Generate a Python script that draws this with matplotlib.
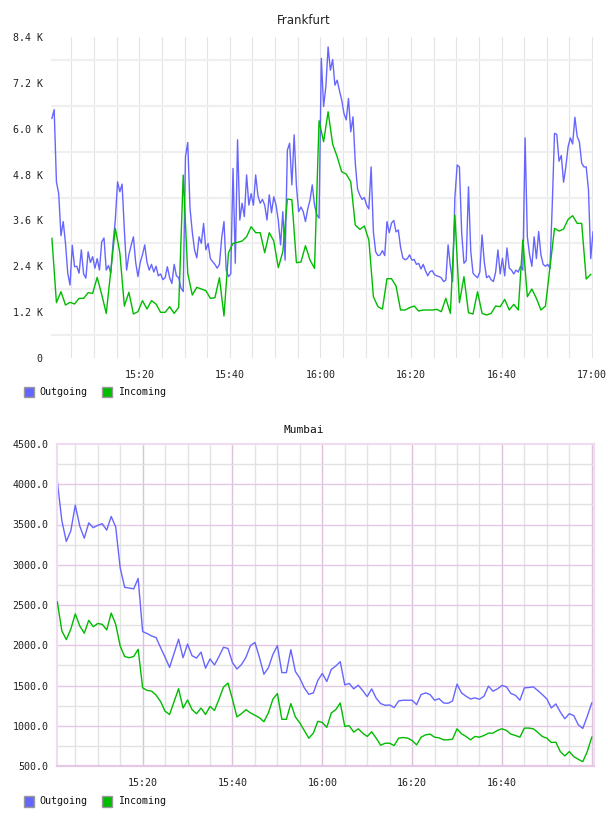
import numpy as np
import matplotlib
matplotlib.use("Agg")
import matplotlib.pyplot as plt
from matplotlib.patches import Rectangle

# ---------------- data ----------------
# minutes after 15:00
fra_out_start, fra_out_step = 0.7, 0.5
fra_in_start, fra_in_step = 0.7, 1.0
mum_start, mum_step = 1.0, 1.0

fra_outgoing = [
    6270, 6500, 4610, 4300, 3200, 3570, 3000, 2220, 1910, 2950,
    2390, 2400, 2220, 2830, 2200, 2090, 2780, 2500, 2650, 2350,
    2600, 2300, 3040, 3140, 2300, 2420, 2215, 3000, 3610, 4610,
    4350, 4550, 3350, 2300, 2700, 2950, 3170, 2500, 2130, 2500,
    2700, 2960, 2500, 2300, 2450, 2250, 2400, 2150, 2200, 2050,
    2100, 2390, 2100, 1950, 2450, 2150, 2100, 1830, 1740, 5270,
    5640, 3920, 3300, 2830, 2620, 3170, 3000, 3520, 2830, 3000,
    2600, 2520, 2450, 2350, 2450, 3150, 3570, 2300, 2130, 2200,
    4960, 2480, 5710, 3610, 4050, 3700, 4790, 4000, 4300, 4000,
    4790, 4250, 4050, 4150, 4000, 3610, 4270, 3800, 4220, 4000,
    3600, 2960, 3830, 2560, 5440, 5620, 4530, 5840, 4500, 3830,
    3950, 3830, 3570, 3900, 4130, 4530, 4000, 3750, 3660, 7840,
    6580, 7100, 8140, 7530, 7810, 7140, 7270, 7000, 6750, 6400,
    6230, 6790, 5920, 6310, 5100, 4420, 4260, 4150, 4200, 4000,
    3900, 5000, 3300, 2780, 2680, 2700, 2810, 2680, 3570, 3280,
    3530, 3600, 3300, 3350, 2900, 2620, 2570, 2600, 2700, 2560,
    2580, 2450, 2476, 2330, 2450, 2285, 2150, 2260, 2285, 2180,
    2150, 2130, 2100, 2000, 2040, 2960, 2400, 2000, 4200, 5050,
    5000, 3270, 2480, 2550, 4480, 2800, 2220, 2150, 2100, 2250,
    3220, 2500, 2100, 2150, 2050, 2000, 2250, 2830, 2200, 2610,
    2150, 2880, 2350, 2300, 2200, 2300, 2250, 2400, 2300, 5760,
    3170, 2700, 2400, 3170, 2600, 3310, 2700, 2450, 2400, 2450,
    2350, 4000, 5880, 5850, 5150, 5300, 4600, 5000, 5530, 5760,
    5600, 6300, 5800, 5650, 5100, 5000, 5000, 4400, 2600, 3300,
]
fra_incoming = [
    3130, 1448, 1735, 1386, 1456, 1413, 1561, 1561, 1709, 1692,
    2110, 1660, 1168, 2270, 3392, 2755, 1360, 1718, 1151, 1212,
    1500, 1282, 1500, 1413, 1195, 1195, 1343, 1168, 1326, 4787,
    2215, 1648, 1849, 1805, 1761, 1561, 1578, 2102, 1099, 2755,
    3000, 3026, 3061, 3174, 3436, 3279, 3279, 2755, 3279, 3061,
    2363, 2782, 4159, 4142, 2494, 2511, 2939, 2564, 2346, 6209,
    5659, 6444, 5598, 5267, 4874, 4813, 4613, 3479, 3366, 3453,
    3087, 1604, 1343, 1282, 2075, 2075, 1884, 1256, 1256, 1317,
    1360, 1230, 1256, 1256, 1256, 1273, 1212, 1561, 1168, 3741,
    1448, 2128, 1186, 1151, 1735, 1168, 1125, 1168, 1360, 1343,
    1535, 1256, 1404, 1256, 3087, 1604, 1805, 1561, 1256, 1360,
    2372, 3392, 3322, 3375, 3628, 3723, 3523, 3523, 2067, 2189,
]
mum_outgoing = [
    4040, 3550, 3290, 3420, 3740, 3480, 3330, 3520, 3460, 3490,
    3510, 3430, 3600, 3470, 2960, 2720, 2710, 2700, 2830,
    2170, 2145, 2115, 2095, 1970, 1850, 1725, 1900, 2075, 1845,
    2015, 1870, 1840, 1915, 1715, 1830, 1755, 1860, 1975, 1960,
    1785, 1705, 1760, 1850, 1995, 2035, 1850, 1640, 1720, 1885,
    1995, 1660, 1660, 1945, 1675, 1590, 1470, 1390,
    1408, 1562, 1650, 1550, 1700, 1742, 1796, 1508, 1525, 1458,
    1504, 1437, 1362, 1458, 1342, 1275, 1254, 1258, 1225, 1308,
    1317, 1317, 1317, 1262, 1387, 1408, 1387, 1317, 1337, 1283,
    1279, 1308, 1517, 1408, 1367, 1333, 1346, 1329, 1367, 1492,
    1429, 1458, 1500, 1483, 1400, 1379, 1317, 1471, 1475, 1483,
    1437, 1387, 1333, 1221, 1271, 1171, 1087, 1150, 1125, 1012,
    967, 1117, 1283,
]
mum_incoming = [
    2540, 2180, 2070, 2200, 2390, 2240, 2150, 2310, 2230, 2270,
    2260, 2190, 2400, 2260, 1990, 1860, 1845, 1860, 1950,
    1470, 1440, 1430, 1380, 1300, 1180, 1140, 1300, 1460, 1220,
    1320, 1200, 1150, 1220, 1140, 1240, 1190, 1330, 1480, 1530,
    1330, 1110, 1150, 1200, 1160, 1130, 1100, 1050, 1160, 1330,
    1400, 1080, 1080, 1275, 1110, 1035, 940, 845,
    908, 1054, 1042, 979, 1158, 1200, 1283, 992, 1000, 921,
    962, 908, 867, 925, 846, 758, 783, 783, 754, 846,
    854, 846, 817, 762, 858, 887, 896, 858, 850, 825,
    825, 833, 962, 900, 867, 825, 867, 858, 879, 908,
    908, 942, 962, 942, 896, 879, 858, 971, 971, 962,
    917, 867, 846, 792, 796, 679, 625, 679, 617, 583,
    554, 679, 858,
]

x_tick_minutes = [20, 40, 60, 80, 100, 120]
x_tick_labels = ["15:20", "15:40", "16:00", "16:20", "16:40", "17:00"]
fra_y_ticks = [0, 1200, 2400, 3600, 4800, 6000, 7200, 8400]
fra_y_labels = ["0", "1.2 K", "2.4 K", "3.6 K", "4.8 K", "6.0 K", "7.2 K", "8.4 K"]
mum_y_ticks = [500, 1000, 1500, 2000, 2500, 3000, 3500, 4000, 4500]
mum_y_labels = ["%.1f" % v for v in mum_y_ticks]
series_names = ["Outgoing", "Incoming"]

# ---------------- style ----------------
C_OUT = "#6666ff"
C_IN = "#00bb00"
MONO = ["DejaVu Sans Mono"]
W, H = 608, 816

fig = plt.figure(figsize=(W / 100, H / 100), dpi=100)
fig.patch.set_facecolor("white")


def fx(px):
    return px / W


def fy(py):
    return 1 - py / H


# ---------------- Frankfurt ----------------
ax1 = fig.add_axes([fx(51), fy(358), fx(593) - fx(51), fy(37) - fy(358)])
t_out = fra_out_start + fra_out_step * np.arange(len(fra_outgoing))
t_in = fra_in_start + fra_in_step * np.arange(len(fra_incoming))
ax1.set_xlim(0.5, 120.2)
ax1.set_ylim(0, 8400)
for s in ax1.spines.values():
    s.set_visible(False)
for m in range(5, 121, 5):
    ax1.axvline(m, color="#e4e4e4", lw=0.8, zorder=0)
for v in range(600, 8400, 1200):
    ax1.axhline(v, color="#efefef", lw=1.6, zorder=0)
ax1.plot(t_in, fra_incoming, color=C_IN, lw=1.0, zorder=3)
ax1.plot(t_out, fra_outgoing, color=C_OUT, lw=1.0, zorder=2)
ax1.set_xticks(x_tick_minutes)
ax1.set_xticklabels(x_tick_labels)
ax1.set_yticks(fra_y_ticks)
ax1.set_yticklabels(fra_y_labels)
ax1.tick_params(length=0, labelsize=7.2, colors="#222222")
ax1.tick_params(axis="y", pad=6)
ax1.tick_params(axis="x", pad=9)
for lab in ax1.get_xticklabels() + ax1.get_yticklabels():
    lab.set_family(MONO)
fig.text(0.5, fy(20), "Frankfurt", ha="center", va="center",
         fontsize=8.5, color="#222222", family=["DejaVu Sans"])

# ---------------- Mumbai ----------------
ax2 = fig.add_axes([fx(57), fy(766), fx(594) - fx(57), fy(444) - fy(766)])
tm = mum_start + mum_step * np.arange(len(mum_outgoing))
ax2.set_xlim(0.93, 120.5)
ax2.set_ylim(500, 4500)
for m in range(5, 121, 5):
    major = (m % 20 == 0)
    ax2.axvline(m, color="#dcc0dc" if major else "#e2e2e2", lw=1.0, zorder=0)
for v in range(750, 4500, 250):
    major = (v % 500 == 0)
    ax2.axhline(v, color="#e4c8e4" if major else "#e2e2e2", lw=1.0, zorder=0)
ax2.plot(tm, mum_incoming, color=C_IN, lw=1.0, zorder=3)
ax2.plot(tm, mum_outgoing, color=C_OUT, lw=1.0, zorder=2)
for side in ["left", "right", "top", "bottom"]:
    ax2.spines[side].set_color("#f0dcf0" if side != "bottom" else "#e4c8e4")
    ax2.spines[side].set_linewidth(1.6)
ax2.set_xticks(x_tick_minutes[:-1])
ax2.set_xticklabels(x_tick_labels[:-1])
ax2.set_yticks(mum_y_ticks)
ax2.set_yticklabels(mum_y_labels)
ax2.tick_params(length=0, labelsize=7.2, colors="#222222")
ax2.tick_params(axis="y", pad=6)
ax2.tick_params(axis="x", pad=9)
for lab in ax2.get_xticklabels() + ax2.get_yticklabels():
    lab.set_family(MONO)
fig.text(0.5, fy(430), "Mumbai", ha="center", va="center",
         fontsize=8, color="#111111", family=MONO)


# ---------------- legends ----------------
def legend(ycenter):
    for (x0, tx), name, col in zip([(24, 39), (102, 118)], series_names, [C_OUT, C_IN]):
        fig.add_artist(Rectangle((fx(x0), fy(ycenter + 5.5)), 10 / W, 11 / H,
                                 transform=fig.transFigure, facecolor=col,
                                 edgecolor="#999999", lw=1.0))
        fig.text(fx(tx), fy(ycenter), name, ha="left", va="center",
                 fontsize=7.2, family=MONO, color="#111111")


legend(392)
legend(801)

fig.savefig("out.png", dpi=100)
